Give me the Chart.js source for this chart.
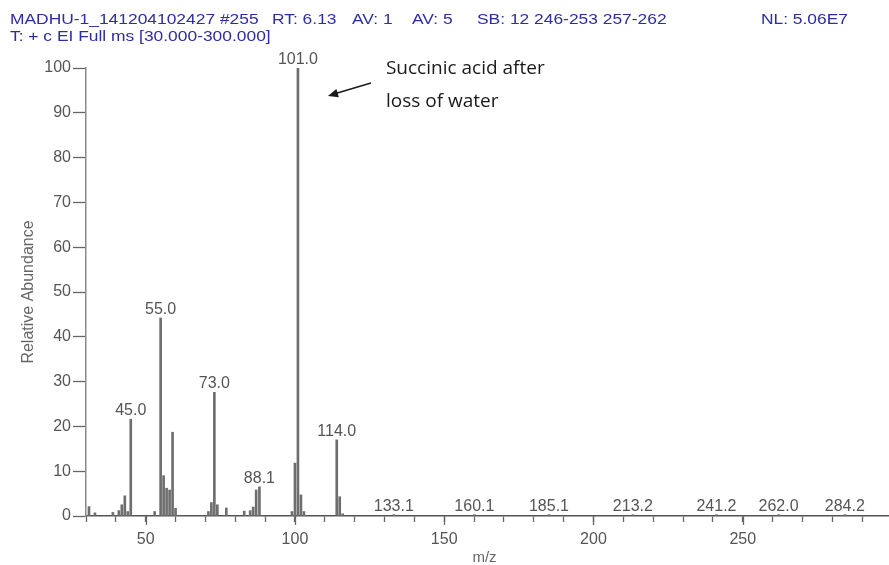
<!DOCTYPE html>
<html>
<head>
<meta charset="utf-8">
<script src="https://cdn.jsdelivr.net/npm/chart.js@4.4.1/dist/chart.umd.min.js"></script>
<style>
  html, body { margin: 0; padding: 0; background: #ffffff; }
  #wrap { position: relative; width: 889px; height: 565px; }
</style>
</head>
<body>
<div id="wrap"><canvas id="ms" width="889" height="565"></canvas></div>
<script>
// EI mass spectrum, scan #255 (RT 6.13)
const mz = [
  31, 33, 39, 41, 42, 43, 44, 45.0, 53, 55.0, 56, 57, 58, 59, 60,
  71, 72, 73.0, 74, 77, 83, 85, 86, 87, 88.1,
  99, 100, 101.0, 102, 103, 114.0, 115, 116,
  133.1, 160.1, 185.1, 213.2, 241.2, 262.0, 284.2
];
const abundance = [
  2.1, 0.7, 0.8, 1.2, 2.5, 4.5, 1.0, 21.6, 1.0, 44.2, 9.0, 6.2, 5.8, 18.7, 1.7,
  1.0, 3.0, 27.6, 2.5, 1.8, 1.1, 1.2, 2.0, 5.8, 6.5,
  1.0, 11.8, 100.0, 4.7, 1.0, 17.0, 4.3, 0.5,
  0.3, 0.3, 0.3, 0.3, 0.3, 0.3, 0.3
];
// peaks annotated with their m/z
const peakLabels = [45.0, 55.0, 73.0, 88.1, 101.0, 114.0, 133.1, 160.1, 185.1, 213.2, 241.2, 262.0, 284.2];
const yTicks = [0, 10, 20, 30, 40, 50, 60, 70, 80, 90, 100];
const xLabelTicks = [50, 100, 150, 200, 250];

const headerLine1 = [
  'MADHU-1_141204102427 #255', 'RT: 6.13', 'AV: 1', 'AV: 5',
  'SB: 12 246-253 257-262', 'NL: 5.06E7'
];
const headerLine2 = 'T: + c EI Full ms [30.000-300.000]';
const noteLines = ['Succinic acid after', 'loss of water'];
const noteTarget = 101.0;

const FONT = '"Liberation Sans", Arial, sans-serif';
const LABEL_GREY = '#555555';

// text drawn with a slight horizontal stretch (wide header style)
function wideText(ctx, t, x, y, sx) {
  ctx.save();
  ctx.translate(x, y);
  ctx.scale(sx, 1);
  ctx.fillText(t, 0, 0);
  ctx.restore();
}

const overlay = {
  id: 'overlay',
  afterDraw(chart) {
    const ctx = chart.ctx;
    const xs = chart.scales.x, ys = chart.scales.y;
    const area = chart.chartArea;
    ctx.save();

    // longer tick marks at labelled positions
    ctx.strokeStyle = '#666666';
    ctx.lineWidth = 1.3;
    xLabelTicks.forEach(v => {
      const px = Math.round(xs.getPixelForValue(v)) + 0.5;
      ctx.beginPath();
      ctx.moveTo(px, area.bottom);
      ctx.lineTo(px, area.bottom + 9);
      ctx.stroke();
    });

    // header
    ctx.fillStyle = '#2d2da6';
    ctx.font = '14.5px ' + FONT;
    ctx.textBaseline = 'middle';
    ctx.textAlign = 'left';
    const sx = 1.2;
    const starts = [10, 272, 352, 412, 477, null];
    headerLine1.forEach((t, i) => {
      const x = starts[i] === null ? 848 - ctx.measureText(t).width * sx : starts[i];
      wideText(ctx, t, x, 20, sx);
    });
    wideText(ctx, headerLine2, 10, 37, sx);

    // peak labels
    ctx.fillStyle = LABEL_GREY;
    ctx.font = '16px ' + FONT;
    ctx.textAlign = 'center';
    ctx.textBaseline = 'alphabetic';
    peakLabels.forEach(m => {
      const i = mz.indexOf(m);
      if (i < 0) return;
      const px = xs.getPixelForValue(m);
      const py = ys.getPixelForValue(abundance[i]);
      ctx.fillText(m.toFixed(1), px, py - 4);
    });

    // axis titles
    ctx.fillStyle = '#666666';
    ctx.font = '15px ' + FONT;
    ctx.textBaseline = 'middle';
    ctx.fillText('m/z', (area.left + area.right) / 2 - 3, 558);
    ctx.save();
    ctx.translate(29, (area.top + area.bottom) / 2);
    ctx.rotate(-Math.PI / 2);
    ctx.font = '16px ' + FONT;
    ctx.fillText('Relative Abundance', 0, 0);
    ctx.restore();

    // note with arrow pointing at the base peak
    const bx = xs.getPixelForValue(noteTarget);
    const by = ys.getPixelForValue(100);
    ctx.fillStyle = '#1a1a1a';
    ctx.font = '19px "Open Sans", ' + FONT;
    ctx.textAlign = 'left';
    ctx.fillText(noteLines[0], bx + 88, by + 1);
    ctx.fillText(noteLines[1], bx + 88, by + 34);

    const x0 = bx + 73, y0 = by + 15, x1 = bx + 30, y1 = by + 28;
    ctx.strokeStyle = '#1a1a1a';
    ctx.lineWidth = 1.5;
    ctx.beginPath();
    ctx.moveTo(x0, y0);
    ctx.lineTo(x1 + 6, y1 - 2);
    ctx.stroke();
    const ang = Math.atan2(y1 - y0, x1 - x0);
    ctx.beginPath();
    ctx.moveTo(x1, y1);
    ctx.lineTo(x1 - 11 * Math.cos(ang - 0.4), y1 - 11 * Math.sin(ang - 0.4));
    ctx.lineTo(x1 - 11 * Math.cos(ang + 0.4), y1 - 11 * Math.sin(ang + 0.4));
    ctx.closePath();
    ctx.fill();

    ctx.restore();
  }
};

new Chart(document.getElementById('ms'), {
  type: 'bar',
  data: {
    datasets: [{
      data: mz.map((m, i) => ({ x: m, y: abundance[i] })),
      backgroundColor: '#6e6e6e',
      borderWidth: 0,
      barThickness: 2
    }]
  },
  options: {
    responsive: false,
    animation: false,
    devicePixelRatio: 1,
    layout: { padding: { top: 68, right: 0, bottom: 0, left: 0 } },
    plugins: { legend: { display: false }, tooltip: { enabled: false } },
    scales: {
      x: {
        type: 'linear',
        min: 30,
        max: 299,
        offset: false,
        afterFit(s) { s.height = 49; },
        border: { color: '#555555', width: 1.5 },
        grid: { drawOnChartArea: false, offset: false, tickLength: 6, color: '#666666', tickWidth: 1.3 },
        ticks: {
          stepSize: 10,
          autoSkip: false,
          includeBounds: false,
          maxRotation: 0,
          padding: 8,
          color: LABEL_GREY,
          font: { family: FONT, size: 16 },
          callback: v => (xLabelTicks.includes(v) ? String(v) : '')
        }
      },
      y: {
        min: 0,
        max: 100,
        afterFit(s) { s.width = 86; },
        afterBuildTicks(s) { s.ticks = yTicks.map(v => ({ value: v })); },
        border: { color: '#8a8a8a', width: 1.5 },
        grid: { drawOnChartArea: false, tickLength: 13, color: '#666666', tickWidth: 1.3 },
        ticks: {
          padding: 2,
          color: LABEL_GREY,
          font: { family: FONT, size: 16 }
        }
      }
    }
  },
  plugins: [overlay]
});
</script>
</body>
</html>
